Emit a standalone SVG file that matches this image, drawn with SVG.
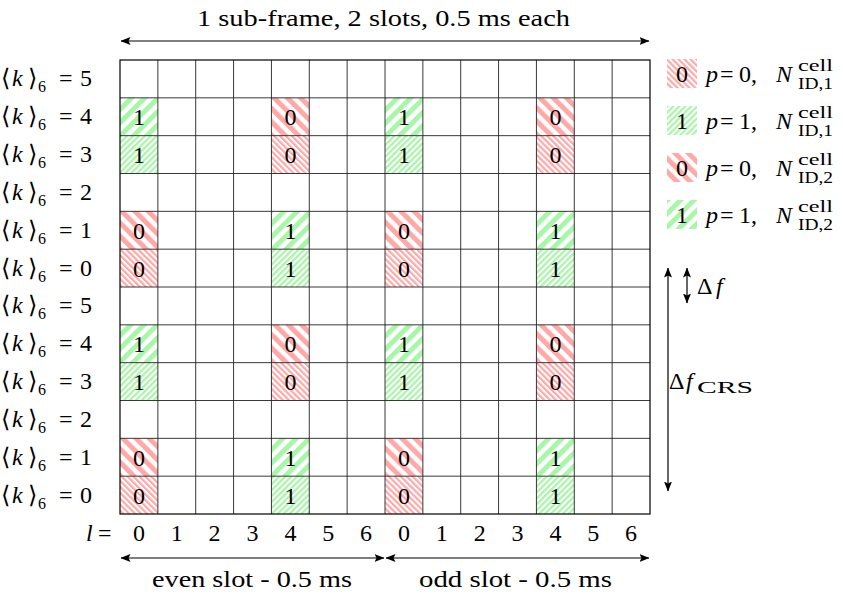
<svg xmlns="http://www.w3.org/2000/svg" width="843" height="596" viewBox="0 0 843 596">
<style>
text{font-family:"Liberation Serif","Times New Roman",serif;font-size:24px;fill:#000}
.it{font-style:italic}
.c{text-anchor:middle}
.sm{font-size:16px}
.grid line{stroke:#222;stroke-width:0.9}
.frame{fill:none;stroke:#000;stroke-width:1.2}
.arr{stroke:#000;stroke-width:1.2;fill:none;marker-start:url(#ah);marker-end:url(#ah)}
</style>
<defs>
<marker id="ah" viewBox="0 0 10 8" refX="9.5" refY="4" markerWidth="10" markerHeight="8" markerUnits="userSpaceOnUse" orient="auto-start-reverse"><path d="M0,0 L10,4 L0,8 L2,4 Z" fill="#000"/></marker>
<pattern id="gC" patternUnits="userSpaceOnUse" width="9.4" height="9.4" patternTransform="rotate(45)"><rect width="9.4" height="9.4" fill="#fff"/><rect width="5" height="9.4" fill="#a9f5a9"/></pattern>
<pattern id="gF" patternUnits="userSpaceOnUse" width="4.2" height="4.2" patternTransform="rotate(45)"><rect width="4.2" height="4.2" fill="#fff"/><rect width="2.2" height="4.2" fill="#a9f5a9"/></pattern>
<pattern id="rC" patternUnits="userSpaceOnUse" width="9.4" height="9.4" patternTransform="rotate(-45)"><rect width="9.4" height="9.4" fill="#fff"/><rect width="5" height="9.4" fill="#ffa8a8"/></pattern>
<pattern id="rF" patternUnits="userSpaceOnUse" width="4.2" height="4.2" patternTransform="rotate(-45)"><rect width="4.2" height="4.2" fill="#fff"/><rect width="2.2" height="4.2" fill="#ffa8a8"/></pattern>
</defs>
<rect width="843" height="596" fill="#fff"/>

<!-- patterned cells -->
<g id="cells">
<g id="c1-0"><rect x="120" y="97.83" width="37.86" height="37.84" fill="url(#gC)"/><text x="138.9" y="125" class="c">1</text></g>
<g id="c1-4"><rect x="271.43" y="97.83" width="37.86" height="37.84" fill="url(#rC)"/><text x="290.4" y="125" class="c">0</text></g>
<g id="c1-7"><rect x="385" y="97.83" width="37.86" height="37.84" fill="url(#gC)"/><text x="404" y="125" class="c">1</text></g>
<g id="c1-11"><rect x="536.43" y="97.83" width="37.86" height="37.84" fill="url(#rC)"/><text x="555.4" y="125" class="c">0</text></g>
<g id="c2-0"><rect x="120" y="135.67" width="37.86" height="37.83" fill="url(#gF)"/><text x="138.9" y="163" class="c">1</text></g>
<g id="c2-4"><rect x="271.43" y="135.67" width="37.86" height="37.83" fill="url(#rF)"/><text x="290.4" y="163" class="c">0</text></g>
<g id="c2-7"><rect x="385" y="135.67" width="37.86" height="37.83" fill="url(#gF)"/><text x="404" y="163" class="c">1</text></g>
<g id="c2-11"><rect x="536.43" y="135.67" width="37.86" height="37.83" fill="url(#rF)"/><text x="555.4" y="163" class="c">0</text></g>
<g id="c4-0"><rect x="120" y="211.33" width="37.86" height="37.84" fill="url(#rC)"/><text x="138.9" y="238.5" class="c">0</text></g>
<g id="c4-4"><rect x="271.43" y="211.33" width="37.86" height="37.84" fill="url(#gC)"/><text x="290.4" y="238.5" class="c">1</text></g>
<g id="c4-7"><rect x="385" y="211.33" width="37.86" height="37.84" fill="url(#rC)"/><text x="404" y="238.5" class="c">0</text></g>
<g id="c4-11"><rect x="536.43" y="211.33" width="37.86" height="37.84" fill="url(#gC)"/><text x="555.4" y="238.5" class="c">1</text></g>
<g id="c5-0"><rect x="120" y="249.17" width="37.86" height="37.83" fill="url(#rF)"/><text x="138.9" y="276.5" class="c">0</text></g>
<g id="c5-4"><rect x="271.43" y="249.17" width="37.86" height="37.83" fill="url(#gF)"/><text x="290.4" y="276.5" class="c">1</text></g>
<g id="c5-7"><rect x="385" y="249.17" width="37.86" height="37.83" fill="url(#rF)"/><text x="404" y="276.5" class="c">0</text></g>
<g id="c5-11"><rect x="536.43" y="249.17" width="37.86" height="37.83" fill="url(#gF)"/><text x="555.4" y="276.5" class="c">1</text></g>
<g id="c7-0"><rect x="120" y="324.83" width="37.86" height="37.84" fill="url(#gC)"/><text x="138.9" y="352" class="c">1</text></g>
<g id="c7-4"><rect x="271.43" y="324.83" width="37.86" height="37.84" fill="url(#rC)"/><text x="290.4" y="352" class="c">0</text></g>
<g id="c7-7"><rect x="385" y="324.83" width="37.86" height="37.84" fill="url(#gC)"/><text x="404" y="352" class="c">1</text></g>
<g id="c7-11"><rect x="536.43" y="324.83" width="37.86" height="37.84" fill="url(#rC)"/><text x="555.4" y="352" class="c">0</text></g>
<g id="c8-0"><rect x="120" y="362.67" width="37.86" height="37.83" fill="url(#gF)"/><text x="138.9" y="390" class="c">1</text></g>
<g id="c8-4"><rect x="271.43" y="362.67" width="37.86" height="37.83" fill="url(#rF)"/><text x="290.4" y="390" class="c">0</text></g>
<g id="c8-7"><rect x="385" y="362.67" width="37.86" height="37.83" fill="url(#gF)"/><text x="404" y="390" class="c">1</text></g>
<g id="c8-11"><rect x="536.43" y="362.67" width="37.86" height="37.83" fill="url(#rF)"/><text x="555.4" y="390" class="c">0</text></g>
<g id="c10-0"><rect x="120" y="438.33" width="37.86" height="37.84" fill="url(#rC)"/><text x="138.9" y="465.5" class="c">0</text></g>
<g id="c10-4"><rect x="271.43" y="438.33" width="37.86" height="37.84" fill="url(#gC)"/><text x="290.4" y="465.5" class="c">1</text></g>
<g id="c10-7"><rect x="385" y="438.33" width="37.86" height="37.84" fill="url(#rC)"/><text x="404" y="465.5" class="c">0</text></g>
<g id="c10-11"><rect x="536.43" y="438.33" width="37.86" height="37.84" fill="url(#gC)"/><text x="555.4" y="465.5" class="c">1</text></g>
<g id="c11-0"><rect x="120" y="476.17" width="37.86" height="37.83" fill="url(#rF)"/><text x="138.9" y="503.5" class="c">0</text></g>
<g id="c11-4"><rect x="271.43" y="476.17" width="37.86" height="37.83" fill="url(#gF)"/><text x="290.4" y="503.5" class="c">1</text></g>
<g id="c11-7"><rect x="385" y="476.17" width="37.86" height="37.83" fill="url(#rF)"/><text x="404" y="503.5" class="c">0</text></g>
<g id="c11-11"><rect x="536.43" y="476.17" width="37.86" height="37.83" fill="url(#gF)"/><text x="555.4" y="503.5" class="c">1</text></g>
</g>

<!-- grid -->
<g id="grid" class="grid">
<line x1="157.86" y1="60" x2="157.86" y2="514"/><line x1="195.71" y1="60" x2="195.71" y2="514"/><line x1="233.57" y1="60" x2="233.57" y2="514"/><line x1="271.43" y1="60" x2="271.43" y2="514"/><line x1="309.29" y1="60" x2="309.29" y2="514"/><line x1="347.14" y1="60" x2="347.14" y2="514"/><line x1="385" y1="60" x2="385" y2="514"/><line x1="422.86" y1="60" x2="422.86" y2="514"/><line x1="460.71" y1="60" x2="460.71" y2="514"/><line x1="498.57" y1="60" x2="498.57" y2="514"/><line x1="536.43" y1="60" x2="536.43" y2="514"/><line x1="574.29" y1="60" x2="574.29" y2="514"/><line x1="612.14" y1="60" x2="612.14" y2="514"/>
<line x1="120" y1="97.83" x2="650" y2="97.83"/><line x1="120" y1="135.67" x2="650" y2="135.67"/><line x1="120" y1="173.5" x2="650" y2="173.5"/><line x1="120" y1="211.33" x2="650" y2="211.33"/><line x1="120" y1="249.17" x2="650" y2="249.17"/><line x1="120" y1="287" x2="650" y2="287"/><line x1="120" y1="324.83" x2="650" y2="324.83"/><line x1="120" y1="362.67" x2="650" y2="362.67"/><line x1="120" y1="400.5" x2="650" y2="400.5"/><line x1="120" y1="438.33" x2="650" y2="438.33"/><line x1="120" y1="476.17" x2="650" y2="476.17"/>
<rect class="frame" x="120" y="60" width="530" height="454"/>
</g>

<!-- row labels -->
<g id="rowlabels">
<text x="1" y="86">⟨<tspan class="it" x="12">k</tspan><tspan x="28">⟩</tspan><tspan class="sm" x="38" dy="6">6</tspan><tspan dy="-6" x="59">=</tspan><tspan x="80">5</tspan></text>
<text x="1" y="124">⟨<tspan class="it" x="12">k</tspan><tspan x="28">⟩</tspan><tspan class="sm" x="38" dy="6">6</tspan><tspan dy="-6" x="59">=</tspan><tspan x="80">4</tspan></text>
<text x="1" y="162">⟨<tspan class="it" x="12">k</tspan><tspan x="28">⟩</tspan><tspan class="sm" x="38" dy="6">6</tspan><tspan dy="-6" x="59">=</tspan><tspan x="80">3</tspan></text>
<text x="1" y="199.5">⟨<tspan class="it" x="12">k</tspan><tspan x="28">⟩</tspan><tspan class="sm" x="38" dy="6">6</tspan><tspan dy="-6" x="59">=</tspan><tspan x="80">2</tspan></text>
<text x="1" y="237.5">⟨<tspan class="it" x="12">k</tspan><tspan x="28">⟩</tspan><tspan class="sm" x="38" dy="6">6</tspan><tspan dy="-6" x="59">=</tspan><tspan x="80">1</tspan></text>
<text x="1" y="275.5">⟨<tspan class="it" x="12">k</tspan><tspan x="28">⟩</tspan><tspan class="sm" x="38" dy="6">6</tspan><tspan dy="-6" x="59">=</tspan><tspan x="80">0</tspan></text>
<text x="1" y="313">⟨<tspan class="it" x="12">k</tspan><tspan x="28">⟩</tspan><tspan class="sm" x="38" dy="6">6</tspan><tspan dy="-6" x="59">=</tspan><tspan x="80">5</tspan></text>
<text x="1" y="351">⟨<tspan class="it" x="12">k</tspan><tspan x="28">⟩</tspan><tspan class="sm" x="38" dy="6">6</tspan><tspan dy="-6" x="59">=</tspan><tspan x="80">4</tspan></text>
<text x="1" y="389">⟨<tspan class="it" x="12">k</tspan><tspan x="28">⟩</tspan><tspan class="sm" x="38" dy="6">6</tspan><tspan dy="-6" x="59">=</tspan><tspan x="80">3</tspan></text>
<text x="1" y="426.5">⟨<tspan class="it" x="12">k</tspan><tspan x="28">⟩</tspan><tspan class="sm" x="38" dy="6">6</tspan><tspan dy="-6" x="59">=</tspan><tspan x="80">2</tspan></text>
<text x="1" y="464.5">⟨<tspan class="it" x="12">k</tspan><tspan x="28">⟩</tspan><tspan class="sm" x="38" dy="6">6</tspan><tspan dy="-6" x="59">=</tspan><tspan x="80">1</tspan></text>
<text x="1" y="502.5">⟨<tspan class="it" x="12">k</tspan><tspan x="28">⟩</tspan><tspan class="sm" x="38" dy="6">6</tspan><tspan dy="-6" x="59">=</tspan><tspan x="80">0</tspan></text>
</g>

<!-- column labels -->
<g id="collabels">
<text x="86" y="541"><tspan class="it">l</tspan><tspan x="98">=</tspan></text>
<text class="c" x="138.9" y="541">0</text><text class="c" x="176.8" y="541">1</text><text class="c" x="214.6" y="541">2</text><text class="c" x="252.5" y="541">3</text><text class="c" x="290.4" y="541">4</text><text class="c" x="328.2" y="541">5</text><text class="c" x="366.1" y="541">6</text>
<text class="c" x="404" y="541">0</text><text class="c" x="441.8" y="541">1</text><text class="c" x="479.7" y="541">2</text><text class="c" x="517.5" y="541">3</text><text class="c" x="555.4" y="541">4</text><text class="c" x="593.2" y="541">5</text><text class="c" x="631.1" y="541">6</text>
</g>

<!-- connectors / dimension arrows -->
<g id="connectors">
<line class="arr" x1="121" y1="41" x2="649" y2="41"/>
<line class="arr" x1="121" y1="558" x2="384" y2="558"/>
<line class="arr" x1="386" y1="558" x2="649" y2="558"/>
<line class="arr" x1="668" y1="268" x2="668" y2="491"/>
<line class="arr" x1="687" y1="268" x2="687" y2="303"/>
</g>

<g id="dim-labels">
<text x="197" y="26" textLength="373" lengthAdjust="spacingAndGlyphs">1 sub-frame, 2 slots, 0.5 ms each</text>
<text x="152" y="587" textLength="200" lengthAdjust="spacingAndGlyphs">even slot - 0.5 ms</text>
<text x="419" y="587" textLength="193" lengthAdjust="spacingAndGlyphs">odd slot - 0.5 ms</text>
<text x="697" y="294">Δ<tspan class="it" x="716">f</tspan></text>
<text x="669" y="389">Δ<tspan class="it" x="686">f</tspan><tspan class="sm" x="697" dy="4" textLength="56" lengthAdjust="spacingAndGlyphs">CRS</tspan></text>
</g>

<!-- legend -->
<g id="legend-1">
<rect x="667" y="59" width="30" height="29" fill="url(#rF)"/><text class="c" x="682" y="82">0</text>
<text x="706" y="82"><tspan class="it">p</tspan><tspan x="720">=</tspan><tspan x="739">0,</tspan><tspan class="it" x="776">N</tspan></text><text class="sm" x="798" y="71" textLength="35" lengthAdjust="spacingAndGlyphs">cell</text><text class="sm" x="798" y="89" textLength="35" lengthAdjust="spacingAndGlyphs">ID,1</text>
</g>
<g id="legend-2">
<rect x="667" y="106" width="30" height="29" fill="url(#gF)"/><text class="c" x="682" y="129">1</text>
<text x="706" y="129"><tspan class="it">p</tspan><tspan x="720">=</tspan><tspan x="739">1,</tspan><tspan class="it" x="776">N</tspan></text><text class="sm" x="798" y="118" textLength="35" lengthAdjust="spacingAndGlyphs">cell</text><text class="sm" x="798" y="136" textLength="35" lengthAdjust="spacingAndGlyphs">ID,1</text>
</g>
<g id="legend-3">
<rect x="667" y="153" width="30" height="29" fill="url(#rC)"/><text class="c" x="682" y="176">0</text>
<text x="706" y="176"><tspan class="it">p</tspan><tspan x="720">=</tspan><tspan x="739">0,</tspan><tspan class="it" x="776">N</tspan></text><text class="sm" x="798" y="165" textLength="35" lengthAdjust="spacingAndGlyphs">cell</text><text class="sm" x="798" y="183" textLength="35" lengthAdjust="spacingAndGlyphs">ID,2</text>
</g>
<g id="legend-4">
<rect x="667" y="200" width="30" height="29" fill="url(#gC)"/><text class="c" x="682" y="223">1</text>
<text x="706" y="223"><tspan class="it">p</tspan><tspan x="720">=</tspan><tspan x="739">1,</tspan><tspan class="it" x="776">N</tspan></text><text class="sm" x="798" y="212" textLength="35" lengthAdjust="spacingAndGlyphs">cell</text><text class="sm" x="798" y="230" textLength="35" lengthAdjust="spacingAndGlyphs">ID,2</text>
</g>
</svg>
